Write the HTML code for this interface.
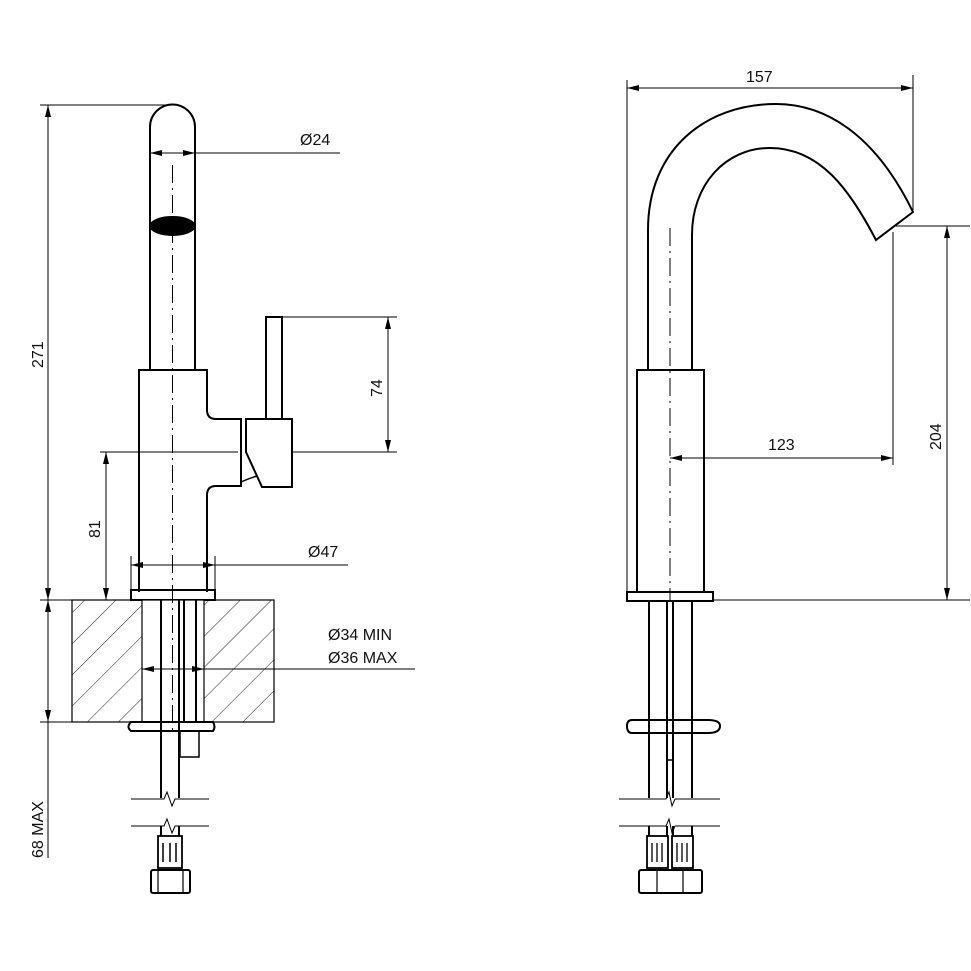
<!DOCTYPE html>
<html><head><meta charset="utf-8"><style>
html,body{margin:0;padding:0;background:#fff}
svg{display:block}
text{font-family:"Liberation Sans",sans-serif;font-size:16px;fill:#111}
</style></head><body>
<svg width="971" height="971" viewBox="0 0 971 971" xmlns="http://www.w3.org/2000/svg">
<defs>
<marker id="a" viewBox="0 0 12 6" refX="12" refY="3" markerWidth="12" markerHeight="6" orient="auto-start-reverse" markerUnits="userSpaceOnUse"><path d="M0,0 L12,3 L0,6 Z" fill="#000"/></marker>
<pattern id="h" patternUnits="userSpaceOnUse" width="22" height="22" patternTransform="rotate(45)"><line x1="0" y1="0" x2="0" y2="22" stroke="#222" stroke-width="1"/></pattern>
</defs>
<g fill="none" stroke="#000" stroke-width="2">
<path d="M150,370 V127 A22.5,22.5 0 0 1 195,127 V370"/>
<ellipse cx="172.5" cy="226" rx="22" ry="9" fill="#000"/>
<path d="M139,592 V370 H207 V410 Q207,419 216,419 H241 V486 H216 Q207,486 207,495 V592"/>
<path d="M246,419 H292 V487 H262 L246,452 Z"/>
<path d="M241,482 Q250,478 257,476" stroke-width="1.5"/>
<rect x="266" y="317" width="16" height="102"/>
<rect x="131" y="590" width="84" height="10"/>
<rect x="72" y="600" width="202" height="122" fill="url(#h)" stroke-width="1.2"/>
<rect x="142" y="600" width="62" height="122" fill="#fff" stroke-width="1.2"/>
<path d="M161,600 V798 M179,600 V798 M184,600 V722 M196,600 V722"/>
<path d="M131,722 H213 Q216,727 213,731 H131 Q126,727 131,722 Z"/>
<rect x="180" y="731" width="19" height="26" stroke-width="1.5"/>
<path d="M161,826 V836 M179,826 V836"/>
<rect x="158" y="836" width="24" height="32" stroke-width="1.8"/>
<path d="M163,843 V862 M170,843 V862 M176,843 V862" stroke-width="1.5"/>
<rect x="151" y="870" width="39" height="23" rx="2"/>
<path d="M158,870 V893 M183,870 V893" stroke-width="1.2"/>
<path d="M648,370 V230 C648,150 705,104 776,104 C830,104 878,140 913,212 L876,240 C850,190 820,148 770,148 C725,148 692,185 692,235 V370"/>
<rect x="637" y="370" width="67" height="222"/>
<rect x="627" y="592" width="86" height="9"/>
<path d="M649,601 V798 M692,601 V798 M667,601 V798 M673,601 V798"/>
<path d="M632,720 H708 Q720,720 720,726 Q720,733 708,733 H632 Q627,733 627,726 Q627,720 632,720 Z"/>
<path d="M667,733 V760 H673 V733" stroke-width="1.5"/>
<path d="M649,826 V836 M692,826 V836 M667,826 V836 M673,826 V836"/>
<rect x="647" y="836" width="21" height="32" stroke-width="1.8"/>
<rect x="672" y="836" width="21" height="32" stroke-width="1.8"/>
<path d="M652,843 V862 M657,843 V862 M662,843 V862 M677,843 V862 M682,843 V862 M687,843 V862" stroke-width="1.3"/>
<rect x="639" y="870" width="63" height="23" rx="2"/>
<path d="M657,870 V893 M683,870 V893" stroke-width="1.2"/>
</g>
<g fill="none" stroke="#000" stroke-width="1">
<path d="M172.5,165 V730" stroke-dasharray="18,5,2,5"/>
<path d="M670,228 V600" stroke-dasharray="18,5,2,5"/>
<path d="M40,105 H175 M40,600 H273"/>
<line x1="48" y1="105" x2="48" y2="600" marker-start="url(#a)" marker-end="url(#a)"/>
<path d="M40,722 H72"/>
<line x1="48" y1="600" x2="48" y2="722" marker-start="url(#a)" marker-end="url(#a)"/>
<path d="M48,722 V858"/>
<line x1="150" y1="153" x2="195" y2="153" marker-start="url(#a)" marker-end="url(#a)"/>
<path d="M195,153 H340"/>
<path d="M282,317 H397 M100,452 H238 M292,452 H397"/>
<line x1="388" y1="317" x2="388" y2="452" marker-start="url(#a)" marker-end="url(#a)"/>
<line x1="106" y1="452" x2="106" y2="600" marker-start="url(#a)" marker-end="url(#a)"/>
<path d="M131,556 V590 M215,556 V590"/>
<line x1="131" y1="565" x2="215" y2="565" marker-start="url(#a)" marker-end="url(#a)"/>
<path d="M215,565 H348"/>
<line x1="142" y1="669" x2="204" y2="669" marker-start="url(#a)" marker-end="url(#a)"/>
<path d="M204,669 H415"/>
<path d="M131,799 H164 L167,792 L172,806 L175,799 H209"/>
<path d="M131,826 H164 L167,819 L172,833 L175,826 H209"/>
<path d="M619,799 H666 L669,792 L672,806 L675,799 H720"/>
<path d="M619,826 H666 L669,819 L672,833 L675,826 H720"/>
<path d="M627,80 V592 M913,75 V212"/>
<line x1="627" y1="88" x2="913" y2="88" marker-start="url(#a)" marker-end="url(#a)"/>
<path d="M893,226 H970 M713,600 H970"/>
<line x1="947" y1="226" x2="947" y2="600" marker-start="url(#a)" marker-end="url(#a)"/>
<path d="M893,232 V465"/>
<line x1="670" y1="458" x2="893" y2="458" marker-start="url(#a)" marker-end="url(#a)"/>
</g>
<text x="300" y="145">Ø24</text>
<text x="308" y="557">Ø47</text>
<text x="328" y="640">Ø34 MIN</text>
<text x="328" y="663">Ø36 MAX</text>
<text x="746" y="82">157</text>
<text x="768" y="450">123</text>
<text transform="translate(43,368) rotate(-90)">271</text>
<text transform="translate(382,397) rotate(-90)">74</text>
<text transform="translate(100,538) rotate(-90)">81</text>
<text transform="translate(43,858) rotate(-90)">68 MAX</text>
<text transform="translate(941,450) rotate(-90)">204</text>
</svg>
</body></html>
